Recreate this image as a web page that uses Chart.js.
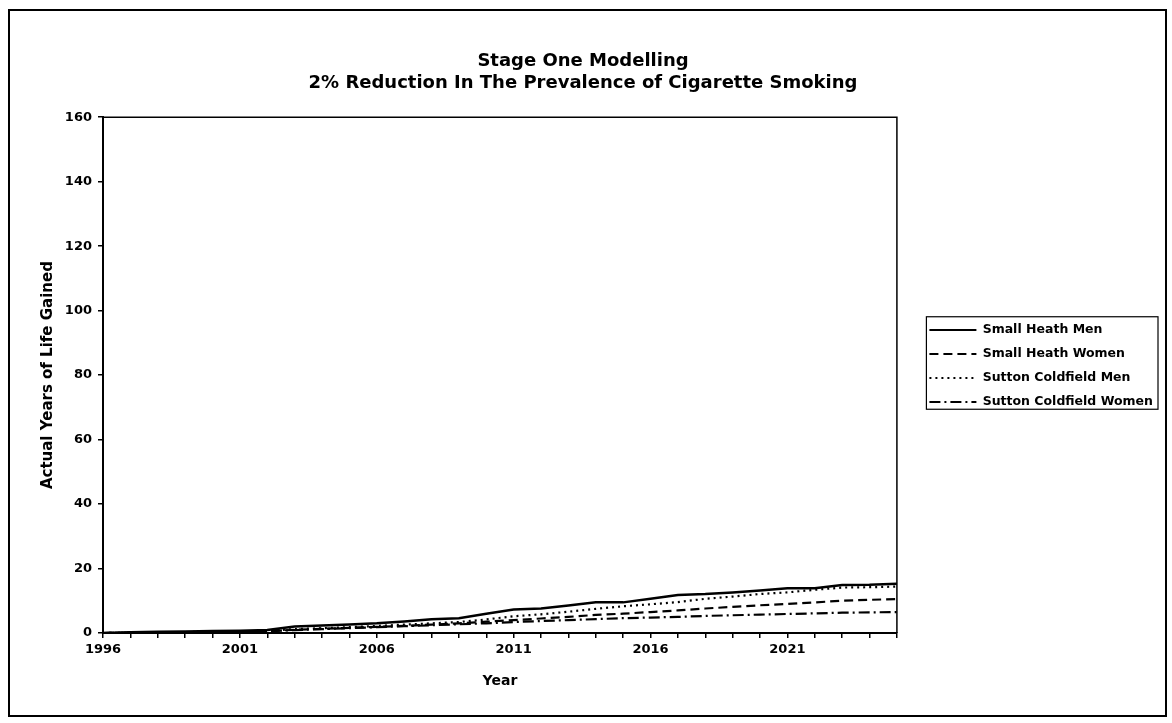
<!DOCTYPE html>
<html>
<head>
<meta charset="utf-8">
<title>Stage One Modelling</title>
<script src="https://cdn.jsdelivr.net/npm/chart.js@4.4.1/dist/chart.umd.min.js"></script>
<style>
  html, body { margin: 0; padding: 0; background: #fff; }
  #wrap { position: relative; width: 1172px; height: 723px; }
</style>
</head>
<body>
<div id="wrap"><canvas id="lifeChart" width="1172" height="723"></canvas></div>
<script>
// x축 카테고리 (연도)
const years = ['1996', '1997', '1998', '1999', '2000', '2001', '2002', '2003', '2004', '2005',
               '2006', '2007', '2008', '2009', '2010', '2011', '2012', '2013', '2014', '2015',
               '2016', '2017', '2018', '2019', '2020', '2021', '2022', '2023', '2024', '2025'];

// 그림에서 읽은 값 (Actual Years of Life Gained)
const smallHeathMen = [0, 0.2, 0.4, 0.5, 0.6, 0.7, 0.9, 2.0, 2.3, 2.6,
                       3.0, 3.6, 4.3, 4.6, 6.0, 7.3, 7.6, 8.5, 9.5, 9.5,
                       10.6, 11.8, 12.1, 12.6, 13.2, 13.9, 13.9, 14.9, 15.0, 15.3];
const smallHeathWomen = [0, 0.1, 0.2, 0.3, 0.3, 0.4, 0.6, 1.0, 1.3, 1.6,
                         1.9, 2.2, 2.6, 3.0, 3.5, 4.0, 4.5, 5.0, 5.6, 6.0,
                         6.5, 7.0, 7.6, 8.1, 8.6, 9.0, 9.5, 10.0, 10.3, 10.5];
const suttonColdfieldMen = [0, 0.1, 0.2, 0.3, 0.4, 0.5, 0.7, 1.2, 1.5, 1.8,
                            2.2, 2.6, 3.0, 3.4, 4.2, 5.2, 5.8, 6.6, 7.5, 8.3,
                            8.9, 9.6, 10.6, 11.3, 12.1, 12.6, 13.4, 14.1, 14.2, 14.4];
const suttonColdfieldWomen = [0, 0.1, 0.2, 0.2, 0.3, 0.4, 0.5, 0.9, 1.2, 1.5,
                              1.8, 2.1, 2.4, 2.7, 3.0, 3.4, 3.7, 4.0, 4.3, 4.6,
                              4.8, 5.0, 5.3, 5.5, 5.7, 5.9, 6.1, 6.3, 6.4, 6.5];

// y축 눈금
const yMin = 0;
const yMax = 160;
const yStep = 20;
const labelEvery = 5; // x축 라벨은 5년마다

Chart.defaults.font.family = "'DejaVu Sans', 'Liberation Sans', Arial, sans-serif";
Chart.defaults.font.weight = 'bold';
Chart.defaults.color = '#000';

// 바깥 테두리, 플롯 영역 위/오른쪽 선, 범례 상자
const framePlugin = {
  id: 'frame',
  afterLayout(chart) {
    const lg = chart.legend;
    lg.left += 21; lg.right += 21;   // 범례를 플롯에서 조금 띄움
    lg.top = 300; lg.bottom = 432;
    const t = chart.titleBlock;       // 제목을 바깥 테두리 가운데로
    t.left += 6; t.right += 6;
  },
  beforeDraw(chart) {
    const ctx = chart.ctx;
    ctx.save();
    ctx.fillStyle = '#fff';
    ctx.fillRect(0, 0, chart.width, chart.height);
    ctx.strokeStyle = '#000';
    ctx.lineWidth = 2;
    ctx.strokeRect(9, 10, chart.width - 15, chart.height - 17);
    ctx.restore();
  },
  afterDraw(chart) {
    const ctx = chart.ctx;
    const a = chart.chartArea;
    ctx.save();
    ctx.strokeStyle = '#000';
    ctx.lineWidth = 1.5;
    ctx.beginPath();
    ctx.moveTo(a.left, a.top);
    ctx.lineTo(a.right, a.top);
    ctx.lineTo(a.right, a.bottom);
    ctx.stroke();

    const boxes = chart.legend.legendHitBoxes;
    if (boxes && boxes.length) {
      const left = Math.min(...boxes.map(b => b.left)) - 3;
      const right = Math.max(...boxes.map(b => b.left + b.width)) + 5;
      const top = boxes[0].top - 7;
      const last = boxes[boxes.length - 1];
      const bottom = last.top + last.height + 1;
      ctx.lineWidth = 1.2;
      ctx.strokeRect(left, top, right - left, bottom - top);
    }
    ctx.restore();
  }
};

const ctx = document.getElementById('lifeChart').getContext('2d');

const chart = new Chart(ctx, {
  type: 'line',
  data: {
    labels: years,
    datasets: [{
      label: 'Small Heath Men',
      data: smallHeathMen,
      borderColor: '#000',
      borderWidth: 2.5,
      borderDash: []
    }, {
      label: 'Small Heath Women',
      data: smallHeathWomen,
      borderColor: '#000',
      borderWidth: 2.2,
      borderDash: [9, 5]
    }, {
      label: 'Sutton Coldfield Men',
      data: suttonColdfieldMen,
      borderColor: '#000',
      borderWidth: 2.2,
      borderDash: [2, 4]
    }, {
      label: 'Sutton Coldfield Women',
      data: suttonColdfieldWomen,
      borderColor: '#000',
      borderWidth: 2.2,
      borderDash: [11, 4, 2, 4]
    }]
  },
  options: {
    responsive: false,
    animation: false,
    devicePixelRatio: 1,
    elements: {
      point: { radius: 0, hoverRadius: 0 },
      line: { tension: 0, fill: false }
    },
    layout: {
      padding: { left: 12, right: 30, top: 12, bottom: 12 }
    },
    plugins: {
      title: {
        display: true,
        text: ['Stage One Modelling', '2% Reduction In The Prevalence of Cigarette Smoking'],
        color: '#000',
        font: { size: 18, weight: 'bold', lineHeight: 1.2 },
        padding: { top: 39, bottom: 23 }
      },
      legend: {
        position: 'right',
        align: 'center',
        labels: {
          color: '#000',
          font: { size: 12.5, weight: 'bold' },
          usePointStyle: true,
          pointStyleWidth: 47,
          padding: 11.5,
          // 범례 견본에 선 모양(점선/파선)을 그대로 보이게
          generateLabels(chart) {
            return chart.data.datasets.map((ds, i) => ({
              text: ds.label,
              datasetIndex: i,
              fillStyle: '#000',
              strokeStyle: '#000',
              fontColor: '#000',
              lineWidth: 2,
              lineDash: ds.borderDash,
              pointStyle: 'line',
              hidden: !chart.isDatasetVisible(i)
            }));
          }
        }
      },
      tooltip: { enabled: false }
    },
    scales: {
      x: {
        type: 'category',
        offset: false,
        afterFit(scale) { scale.height = 78; },
        border: { display: true, color: '#000', width: 2 },
        grid: { drawOnChartArea: false, drawTicks: true, tickLength: 5, color: '#000', lineWidth: 1.5 },
        ticks: {
          autoSkip: false,
          maxRotation: 0,
          padding: 4,
          font: { size: 13, weight: 'bold' },
          callback: function(value, index) {
            return index % labelEvery === 0 ? this.getLabelForValue(value) : '';
          }
        },
        title: {
          display: true,
          text: 'Year',
          font: { size: 14, weight: 'bold' },
          padding: { top: 0, bottom: 21 }
        }
      },
      y: {
        min: yMin,
        max: yMax,
        afterFit(scale) { scale.width = 91; },
        border: { display: true, color: '#000', width: 2 },
        grid: { drawOnChartArea: false, drawTicks: true, tickLength: 5, color: '#000', lineWidth: 1.5 },
        ticks: {
          stepSize: yStep,
          padding: 6,
          font: { size: 13, weight: 'bold' }
        },
        title: {
          display: true,
          text: 'Actual Years of Life Gained',
          font: { size: 15, weight: 'bold' },
          padding: { top: 27, bottom: 0 }
        }
      }
    }
  },
  plugins: [framePlugin]
});
</script>
</body>
</html>
